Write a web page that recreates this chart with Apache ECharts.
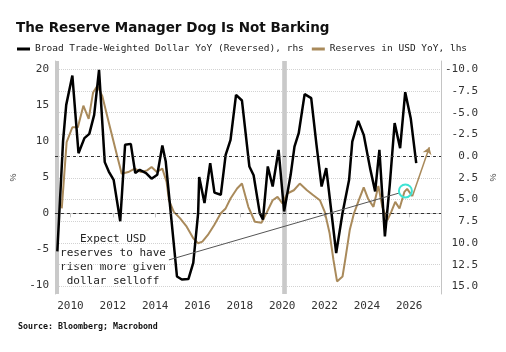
<!DOCTYPE html>
<html><head><meta charset="utf-8">
<script src="https://cdn.jsdelivr.net/npm/echarts@6/dist/echarts.min.js"></script>
<style>html,body{margin:0;padding:0;background:#fff}#c{width:506px;height:352px}</style>
</head><body><div id="c"></div>
<script>
const titleText = 'The Reserve Manager Dog Is Not Barking';
const blackName = 'Broad Trade-Weighted Dollar YoY (Reversed), rhs';
const tanName = 'Reserves in USD YoY, lhs';
const sourceText = 'Source: Bloomberg; Macrobond';
const noteText = 'Expect USD\nreserves to have\nrisen more given\ndollar selloff';

const xTicks = [2010, 2012, 2014, 2016, 2018, 2020, 2022, 2024, 2026];
const leftTicks = [-10, -5, 0, 5, 10, 15, 20];
const rightTicks = [-10, -7.5, -5, -2.5, 0, 2.5, 5, 7.5, 10, 12.5, 15];

const blackYears = [2009.38, 2009.65, 2009.8, 2010.09, 2010.38, 2010.66, 2010.89, 2011.12, 2011.35, 2011.62, 2011.81, 2012.04, 2012.35, 2012.58, 2012.85, 2013.06, 2013.27, 2013.57, 2013.83, 2014.1, 2014.34, 2014.5, 2015.03, 2015.26, 2015.57, 2015.8, 2016.03, 2016.08, 2016.33, 2016.6, 2016.8, 2017.1, 2017.33, 2017.56, 2017.82, 2018.1, 2018.45, 2018.65, 2018.94, 2019.09, 2019.32, 2019.55, 2019.83, 2020.09, 2020.4, 2020.58, 2020.78, 2021.06, 2021.37, 2021.62, 2021.86, 2022.08, 2022.55, 2022.85, 2023.16, 2023.31, 2023.59, 2023.85, 2024.15, 2024.39, 2024.59, 2024.85, 2025.08, 2025.31, 2025.57, 2025.81, 2026.07, 2026.33];
const blackValues = [10.97, -1.7, -5.9, -9.27, -0.34, -2.07, -2.56, -4.75, -9.92, 0.69, 1.77, 2.73, 7.5, -1.3, -1.41, 1.95, 1.58, 1.95, 2.6, 2.15, -1.22, 0.62, 13.85, 14.2, 14.15, 12.3, 6.55, 2.4, 5.4, 0.8, 4.2, 4.45, -0.15, -1.87, -7.05, -6.4, 1.2, 2.2, 6.56, 7.3, 1.19, 3.5, -0.72, 6.37, 2.15, -1.1, -2.64, -7.13, -6.67, -1.3, 3.5, 1.38, 11.15, 6.55, 2.72, -1.68, -4.06, -2.45, 1.38, 4.07, -0.72, 9.24, 3.3, -3.8, -0.92, -7.36, -4.37, 0.8];

const tanYears = [2009.59, 2009.82, 2010.09, 2010.35, 2010.61, 2010.86, 2011.07, 2011.27, 2011.5, 2011.81, 2012.12, 2012.42, 2012.73, 2013.04, 2013.34, 2013.62, 2013.83, 2014.08, 2014.34, 2014.54, 2014.65, 2014.88, 2015.18, 2015.49, 2015.8, 2016.03, 2016.23, 2016.49, 2016.79, 2017.1, 2017.33, 2017.56, 2017.87, 2018.1, 2018.4, 2018.71, 2019.02, 2019.25, 2019.55, 2019.78, 2020.01, 2020.24, 2020.55, 2020.83, 2021.17, 2021.47, 2021.78, 2022.01, 2022.24, 2022.42, 2022.59, 2022.85, 2023.0, 2023.19, 2023.39, 2023.62, 2023.85, 2024.05, 2024.31, 2024.54, 2024.73, 2024.97, 2025.15, 2025.34, 2025.54, 2025.77, 2025.9, 2026.15];
const tanValues = [0.68, 9.87, 11.94, 11.94, 14.93, 13.1, 16.77, 17.7, 16.3, 12.6, 8.95, 5.5, 5.73, 6.2, 5.73, 5.96, 6.42, 5.73, 6.2, 4.35, 1.82, 0.2, -0.7, -1.86, -3.47, -4.15, -3.93, -3.0, -1.63, 0, 0.68, 2.06, 3.44, 4.13, 0.9, -1.17, -1.3, 0, 1.82, 2.28, 1.37, 2.75, 3.2, 4.13, 3.2, 2.51, 1.82, 0.2, -2.77, -6.46, -9.45, -8.76, -6.0, -2.32, 0, 1.82, 3.6, 2.06, 0.9, 3.8, 0.9, -0.94, 0.2, 1.59, 0.68, 2.97, 3.4, 2.37];

// annotation anchor points (data coordinates)
const shadeRanges = [[2009.27, 2009.46], [2020.0, 2020.22]];
const circlePoint = [2025.82, 3.1];
const noteLine = [[2014.65, -6.46], [2025.54, 2.83]];
const arrowLine = [[2026.15, 2.37], [2026.95, 9.18]];

const zip = (xs, ys) => xs.map((x, i) => [x, ys[i]]);
const MONO = '"DejaVu Sans Mono", monospace';
const TAN = '#a98a5b';

const chart = echarts.init(document.getElementById('c'), null, {renderer: 'canvas'});
chart.setOption({
  animation: false,
  backgroundColor: '#fff',
  title: {
    text: titleText, left: 11, top: 16,
    textStyle: {fontFamily: '"DejaVu Sans", sans-serif', fontWeight: 'bold', fontSize: 13.5, color: '#111'}
  },
  legend: {
    left: 12, top: 39, icon: 'rect', itemWidth: 13, itemHeight: 3, itemGap: 8,
    data: [blackName, tanName],
    textStyle: {fontFamily: MONO, fontSize: 9.5, color: '#222'}
  },
  grid: {left: 55, right: 55, top: 61, bottom: 58},
  xAxis: {
    type: 'value', min: 2009.27, max: 2027.5,
    axisLine: {show: true, lineStyle: {color: '#c4c4c4'}},
    axisTick: {show: true, length: 4, customValues: xTicks, lineStyle: {color: '#c4c4c4'}},
    axisLabel: {customValues: xTicks, margin: 7, fontFamily: MONO, fontSize: 11, color: '#333', formatter: v => String(v)},
    splitLine: {show: false}
  },
  yAxis: [
    {
      type: 'value', min: -11.19, max: 21.13, position: 'left',
      name: '%', nameLocation: 'middle', nameGap: 29, nameRotate: 90,
      nameTextStyle: {fontSize: 9, color: '#444'},
      axisLine: {show: true, lineStyle: {color: '#c4c4c4'}},
      axisTick: {show: false, customValues: leftTicks},
      axisLabel: {customValues: leftTicks, margin: 6, fontFamily: MONO, fontSize: 11, color: '#333'},
      splitLine: {show: false}
    },
    {
      type: 'value', min: -10.95, max: 15.87, inverse: true, position: 'right',
      name: '%', nameLocation: 'middle', nameGap: 48, nameRotate: 90,
      nameTextStyle: {fontSize: 9, color: '#444'},
      axisLine: {show: true, lineStyle: {color: '#c4c4c4'}},
      axisTick: {show: false, customValues: rightTicks},
      axisLabel: {customValues: rightTicks, margin: 37, align: 'right', fontFamily: MONO, fontSize: 11, color: '#333',
        formatter: v => v.toFixed(1)},
      splitLine: {show: true, lineStyle: {type: 'dotted', color: '#d2d2d2', width: 1}}
    }
  ],
  series: [
    {
      name: 'shade', type: 'line', data: [], z: 1, silent: true,
      markArea: {silent: true, itemStyle: {color: '#c9c9c9'},
        data: shadeRanges.map(r => [{xAxis: r[0]}, {xAxis: r[1]}])}
    },
    {
      name: tanName, type: 'line', yAxisIndex: 0, z: 3,
      data: zip(tanYears, tanValues), showSymbol: false, symbol: 'none',
      lineStyle: {color: TAN, width: 2}, itemStyle: {color: TAN},
      markLine: {
        silent: true, symbol: 'none', label: {show: false},
        data: [
          {yAxis: 0, lineStyle: {type: [3, 3], color: '#333', width: 1}},
          [{coord: noteLine[0]}, {coord: noteLine[1], lineStyle: {type: 'solid', color: '#555', width: 1}}],
          [{coord: arrowLine[0], symbol: 'none'}, {coord: arrowLine[1], symbol: 'arrow', symbolSize: 7, lineStyle: {type: 'solid', color: TAN, width: 1.5}}]
        ]
      },
      markPoint: {
        silent: true, label: {show: false},
        data: [{coord: circlePoint, symbol: 'circle', symbolSize: 13,
          itemStyle: {color: 'rgba(255,255,255,0)', borderColor: '#3fe3d3', borderWidth: 2}}]
      }
    },
    {
      name: blackName, type: 'line', yAxisIndex: 1, z: 4,
      data: zip(blackYears, blackValues), showSymbol: false, symbol: 'none',
      lineStyle: {color: '#000', width: 2.5}, itemStyle: {color: '#000'},
      markLine: {
        silent: true, symbol: 'none', label: {show: false},
        data: [{yAxis: 0, lineStyle: {type: [3, 3], color: '#333', width: 1}}]
      }
    }
  ],
  graphic: [
    {type: 'text', left: 18, top: 323, style: {text: sourceText, font: 'bold 8.3px ' + MONO, fill: '#111'}},
    {type: 'text', x: 113, y: 260, style: {text: noteText, font: '11px ' + MONO, fill: '#222', align: 'center', verticalAlign: 'middle', lineHeight: 14}}
  ]
});
</script></body></html>
